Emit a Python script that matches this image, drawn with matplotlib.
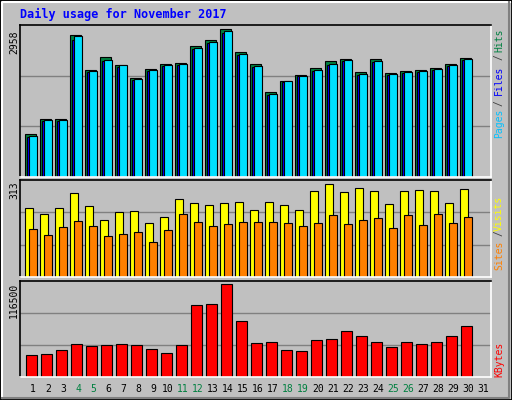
import numpy as np
import matplotlib
matplotlib.use('Agg')
from matplotlib import pyplot as plt

# === Données ===
days = np.arange(1, 32)
hits = [831, 1129, 1129, 2763, 2076, 2329, 2174, 1920, 2096, 2193, 2212, 2543, 2660, 2874, 2426,
        2193, 1648, 1862, 1979, 2115, 2251, 2290, 2043, 2290, 2018, 2057, 2076, 2115, 2193, 2310, 0]
files = [795, 1110, 1105, 2735, 2055, 2270, 2170, 1905, 2085, 2175, 2195, 2520, 2625, 2840, 2390,
         2160, 1610, 1860, 1975, 2080, 2200, 2270, 2000, 2255, 2000, 2035, 2060, 2095, 2175, 2290, 0]
pages = [780, 1090, 1085, 2660, 2035, 2250, 2150, 1890, 2070, 2160, 2180, 2500, 2600, 2800, 2370,
         2140, 1590, 1845, 1960, 2065, 2185, 2250, 1985, 2235, 1985, 2020, 2045, 2080, 2160, 2270, 0]
visits = [222, 202, 222, 270, 228, 183, 209, 212, 173, 193, 251, 238, 231, 238, 241,
          215, 241, 231, 215, 277, 299, 273, 286, 277, 235, 277, 280, 277, 238, 283, 0]
sites = [154, 135, 160, 180, 164, 131, 138, 144, 112, 151, 202, 177, 164, 170, 177,
         177, 177, 173, 164, 173, 199, 170, 183, 189, 157, 199, 167, 202, 173, 193, 0]
kbytes = [26300, 27500, 32400, 39700, 37300, 38500, 39700, 38500, 33600, 28800, 38500, 87000, 88200,
          112500, 67600, 40900, 42100, 32400, 31200, 44500, 45700, 55500, 49400, 42100, 36000,
          42100, 39700, 42100, 49400, 61500, 0]
weekend_days = [4, 5, 11, 12, 18, 19, 25, 26]
max_hits, max_visits, max_kbytes = 2958, 313, 116500

W, H = 512, 400
BG = '#c0c0c0'
MONO = 'DejaVu Sans Mono'

fig = plt.figure(figsize=(W / 100, H / 100), dpi=100, facecolor=BG)

# bordure extérieure
fig.add_artist(plt.Rectangle((0, 0), 1, 1, transform=fig.transFigure, fill=False, ec='black', lw=2))
fig.add_artist(plt.Line2D([0.004, 0.004, 0.996], [0.006, 0.994, 0.994], transform=fig.transFigure,
                          color='white', lw=1.5))
fig.add_artist(plt.Line2D([0.004, 0.994, 0.994], [0.006, 0.006, 0.994], transform=fig.transFigure,
                          color='#808080', lw=1.5))


def ax_at(l, t, r, b):
    ax = fig.add_axes([l / W, 1 - b / H, (r - l) / W, (b - t) / H])
    ax.set_facecolor(BG)
    ax.set_xlim(0.133, 31.53)
    ax.set_xticks([])
    ax.set_yticks([])
    for side in ['top', 'left']:
        ax.spines[side].set_color('black')
    for side in ['bottom', 'right']:
        ax.spines[side].set_color('white')
    for s in ax.spines.values():
        s.set_linewidth(1.2)
    return ax


def grid3(ax, top):
    for f in (1 / 3, 2 / 3):
        ax.axhline(top * f, color='#808080', lw=1, zorder=0)


def bars(ax, off, width, vals, color):
    d = np.array(days, float)
    v = np.array(vals, float)
    m = v > 0
    ax.bar(d[m] + off, v[m], width=width, align='edge', color=color, edgecolor='black', lw=0.8, zorder=2)


# === Panneau 1 : Hits / Files / Pages ===
ax1 = ax_at(20, 25, 491, 177)
ax1.set_ylim(0, max_hits)
grid3(ax1, max_hits)
bars(ax1, -0.53, 0.73, hits, '#008040')
bars(ax1, -0.40, 0.60, pages, '#0000ff')
bars(ax1, -0.27, 0.52, files, '#00e0ff')

# === Panneau 2 : Visits / Sites ===
ax2 = ax_at(20, 180, 491, 277)
ax2.set_ylim(0, max_visits)
grid3(ax2, max_visits)
bars(ax2, -0.53, 0.55, visits, '#ffff00')
bars(ax2, -0.27, 0.52, sites, '#ff8000')

# === Panneau 3 : KBytes ===
ax3 = ax_at(20, 281, 491, 377)
ax3.set_ylim(0, max_kbytes)
grid3(ax3, max_kbytes)
bars(ax3, -0.47, 0.72, kbytes, '#ff0000')

# étiquettes des jours
for d in days:
    c = '#008040' if d in weekend_days else 'black'
    ax3.text(d, -0.13, str(d), transform=ax3.get_xaxis_transform(), ha='center', va='center',
             color=c, fontsize=7, family=MONO)

# titre
fig.text(20 / W, 1 - 14 / H, 'Daily usage for November 2017', color='#0000ff', fontsize=8.5,
         fontweight='bold', family=MONO, va='center', ha='left')

# valeurs max à gauche
for txt, yc in [('2958', 42), ('313', 190), ('116500', 300)]:
    fig.text(14 / W, 1 - yc / H, txt, rotation=90, ha='center', va='center', fontsize=7, family=MONO)

# légendes à droite (verticales)
def vlabel(parts):
    for txt, yc, col in parts:
        fig.text(499 / W, 1 - yc / H, txt, rotation=90, ha='center', va='center',
                 fontsize=7, family=MONO, color=col)

vlabel([('Hits', 40, '#008040'), ('/', 57, '#404040'), ('Files', 80, '#0000ff'),
        ('/', 103, '#404040'), ('Pages', 123, '#00c0ff')])
vlabel([('Visits', 213, '#ffff00'), ('/', 233, '#404040'), ('Sites', 255, '#ff8000')])
vlabel([('KBytes', 359, '#ff0000')])

fig.savefig('out.png', dpi=100, facecolor=BG)
